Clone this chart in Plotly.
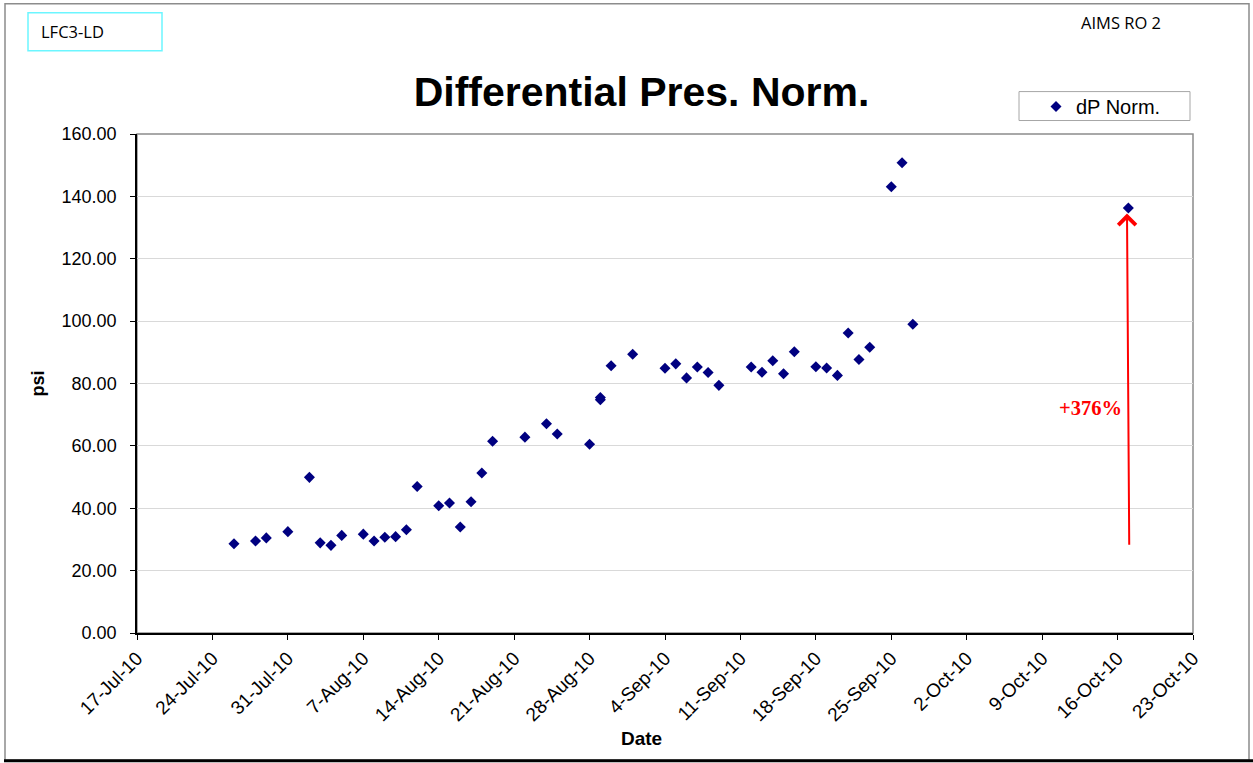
import plotly.graph_objects as go

# ---- data ----
dates = ['2010-07-26', '2010-07-28', '2010-07-29', '2010-07-31', '2010-08-02', '2010-08-03',
         '2010-08-04', '2010-08-05', '2010-08-07', '2010-08-08', '2010-08-09', '2010-08-10',
         '2010-08-11', '2010-08-12', '2010-08-14', '2010-08-15', '2010-08-16', '2010-08-17',
         '2010-08-18', '2010-08-19', '2010-08-22', '2010-08-24', '2010-08-25', '2010-08-28',
         '2010-08-29', '2010-08-29', '2010-08-30', '2010-09-01', '2010-09-04', '2010-09-05',
         '2010-09-06', '2010-09-07', '2010-09-08', '2010-09-09', '2010-09-12', '2010-09-13',
         '2010-09-14', '2010-09-15', '2010-09-16', '2010-09-18', '2010-09-19', '2010-09-20',
         '2010-09-21', '2010-09-22', '2010-09-23', '2010-09-25', '2010-09-26', '2010-09-27',
         '2010-10-17']
dp_norm = [28.6, 29.5, 30.5, 32.5, 49.9, 28.9,
           28.1, 31.3, 31.7, 29.5, 30.7, 30.9,
           33.1, 47.0, 40.8, 41.7, 34.0, 42.1,
           51.3, 61.5, 62.8, 67.1, 63.8, 60.5,
           75.5, 74.8, 85.7, 89.4, 84.9, 86.3,
           81.8, 85.3, 83.5, 79.4, 85.3, 83.6,
           87.3, 83.1, 90.2, 85.4, 85.0, 82.6,
           96.2, 87.7, 91.6, 143.1, 150.8, 99.0,
           136.3]

x_range = ['2010-07-17', '2010-10-23']
y_range = [0, 160]

arrow_start = ('2010-10-17 02:00', 27.8)
arrow_end = ('2010-10-16 21:00', 134.5)
pct_label = '+376%'
pct_pos = ('2010-10-13 12:00', 72.1)

AX = 'Liberation Sans'

fig = go.Figure()
fig.add_trace(go.Scatter(
    x=dates, y=dp_norm, mode='markers', name='dP Norm.',
    marker=dict(symbol='diamond', size=8.5, color='#000080'),
))

W, H = 1253, 763
L, R, T, B = 137, 60, 133.5, 129.5
pw, ph = W - L - R, H - T - B


def px(xp):
    return (xp - L) / pw


def py(yp):
    return (H - B - yp) / ph


fig.update_layout(
    width=W, height=H,
    margin=dict(l=L, r=R, t=T, b=B, autoexpand=False),
    paper_bgcolor='white', plot_bgcolor='white',
    font=dict(family=AX, color='black'),
    title=dict(text='<b>Differential Pres. Norm.</b>', font=dict(size=41, family=AX),
               x=641.5 / W, xref='container', xanchor='center',
               y=1 - 92 / H, yref='container', yanchor='middle'),
    showlegend=True,
    legend=dict(x=px(1036), y=py(106), xanchor='left', yanchor='middle',
                bgcolor='rgba(0,0,0,0)', borderwidth=0, font=dict(size=20, family=AX),
                itemwidth=30),
    xaxis=dict(type='date', range=x_range, tick0='2010-07-17', dtick=7 * 86400000,
               tickformat='%-d-%b-%y', tickangle=-45, tickfont=dict(size=19),
               ticks='outside', ticklen=5, tickcolor='black',
               showline=True, linecolor='black', linewidth=1.5,
               showgrid=False, zeroline=False),
    yaxis=dict(range=y_range, dtick=20, tickformat='.2f', tickfont=dict(size=18),
               ticks='outside', ticklen=5, tickcolor='black', ticklabelstandoff=10,
               showline=True, linecolor='black', linewidth=1.5,
               showgrid=True, gridcolor='#d9d9d9', gridwidth=1, zeroline=False,
               title=dict(text='<b>psi</b>', font=dict(size=18), standoff=12)),
    shapes=[
        # plot area border (top/right gray)
        dict(type='rect', xref='paper', yref='paper', x0=0, x1=1, y0=0, y1=1,
             line=dict(color='#8c8c8c', width=1.5), layer='below'),
        # outer chart border
        dict(type='rect', xref='paper', yref='paper', x0=px(5), x1=px(1249),
             y0=py(761), y1=py(3), line=dict(color='#8c8c8c', width=1.5)),
        dict(type='line', xref='paper', yref='paper', x0=px(4), x1=px(1253),
             y0=py(761.5), y1=py(761.5), line=dict(color='black', width=3)),
        # top-left label box
        dict(type='rect', xref='paper', yref='paper', x0=px(28), x1=px(162),
             y0=py(50), y1=py(12), line=dict(color='#6cf6ff', width=1.5)),
        # legend box
        dict(type='rect', xref='paper', yref='paper', x0=px(1019), x1=px(1190),
             y0=py(120), y1=py(91), line=dict(color='#a6a6a6', width=1)),
    ],
    annotations=[
        dict(text='LFC3-LD', xref='paper', yref='paper', x=px(39), y=py(31),
             xanchor='left', yanchor='middle', showarrow=False,
             font=dict(size=16.5, family='Open Sans')),
        dict(text='AIMS RO 2', xref='paper', yref='paper', x=px(1079), y=py(22),
             xanchor='left', yanchor='middle', showarrow=False,
             font=dict(size=16.5, family='Open Sans')),
        dict(text='<b>Date</b>', xref='paper', yref='paper', x=px(641), y=py(739),
             xanchor='center', yanchor='middle', showarrow=False,
             font=dict(size=19, family=AX)),
        dict(x=arrow_end[0], y=arrow_end[1], ax=arrow_start[0], ay=arrow_start[1],
             xref='x', yref='y', axref='x', ayref='y', text='', showarrow=True,
             arrowhead=4, arrowsize=1.7, arrowwidth=2, arrowcolor='#ff0000', standoff=0),
        dict(text='<b>' + pct_label + '</b>', x=pct_pos[0], y=pct_pos[1], xref='x', yref='y',
             showarrow=False, xanchor='center', yanchor='middle',
             font=dict(size=20.5, family='Liberation Serif', color='#ff0000')),
    ],
)

fig.write_html('out.html', config={'displayModeBar': False},
               post_script="document.body.style.margin='0';")
